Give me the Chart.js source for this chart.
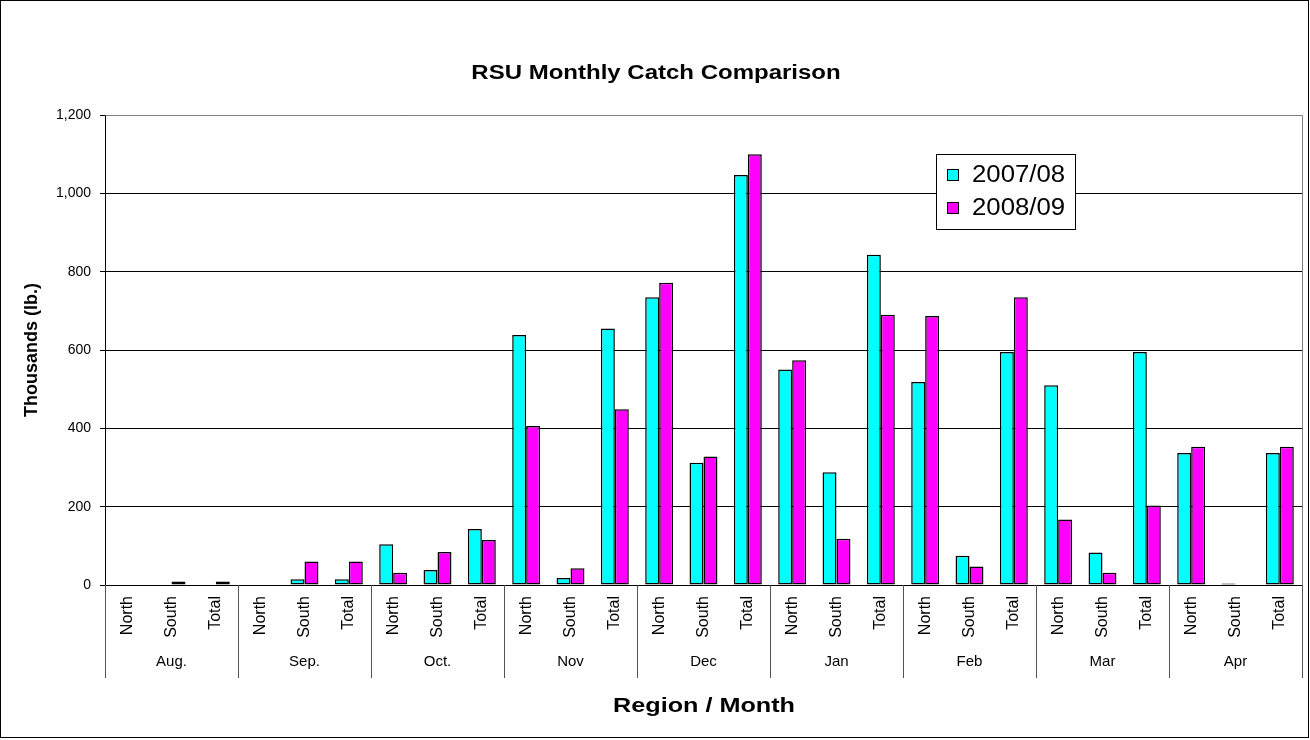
<!DOCTYPE html>
<html>
<head>
<meta charset="utf-8">
<script src="https://cdn.jsdelivr.net/npm/chart.js@4.4.1/dist/chart.umd.min.js"></script>
<style>
  html, body { margin: 0; padding: 0; background: #fff; }
  #wrap { width: 1310px; height: 740px; position: relative; }
</style>
</head>
<body>
<div id="wrap"><canvas id="c" width="1310" height="740"></canvas></div>
<script>
const months = ['Aug.', 'Sep.', 'Oct.', 'Nov', 'Dec', 'Jan', 'Feb', 'Mar', 'Apr'];
const regions = ['North', 'South', 'Total'];
const seriesNames = ['2007/08', '2008/09'];
const catch0708 = [0, 0, 0,   0, 15, 15,   104, 38, 143,   638, 18, 655,   735, 312, 1047,   550, 288, 843,   518, 75, 595,   510, 83, 595,   337, 4, 337];
const catch0809 = [0, 9, 9,   0, 60, 60,   31, 84, 115,   406, 43, 449,   772, 328, 1100,   574, 118, 690,   687, 47, 735,   167, 31, 203,   353, 0, 353];
const yTicks = [0, 200, 400, 600, 800, 1000, 1200];
const chartTitle = 'RSU Monthly Catch Comparison';
const yTitle = 'Thousands (lb.)';
const xTitle = 'Region / Month';

const labels = [];
months.forEach(m => regions.forEach(r => labels.push(r + '|' + m)));

const FONT = "'Liberation Sans', Arial, sans-serif";

function stretchedText(ctx, text, x, y, sx) {
  ctx.save();
  ctx.translate(x, y);
  ctx.scale(sx, 1);
  ctx.fillText(text, 0, 0);
  ctx.restore();
}

const decorPlugin = {
  id: 'decor',
  afterDraw(chart) {
    const ctx = chart.ctx;
    const ca = chart.chartArea;
    const xs = chart.scales.x;
    ctx.save();
    // plot area border (gray) top and right
    ctx.strokeStyle = '#808080';
    ctx.lineWidth = 1;
    ctx.beginPath();
    ctx.moveTo(Math.round(ca.left) + 0.5, Math.round(ca.top) + 0.5);
    ctx.lineTo(Math.round(ca.right) + 0.5, Math.round(ca.top) + 0.5);
    ctx.lineTo(Math.round(ca.right) + 0.5, Math.round(ca.bottom) + 0.5);
    ctx.stroke();

    // category labels
    const n = labels.length;
    const catW = (ca.right - ca.left) / n;
    ctx.fillStyle = '#000';
    ctx.font = '16px ' + FONT;
    labels.forEach((lab, i) => {
      const x = xs.getPixelForValue(i);
      ctx.save();
      ctx.translate(x, ca.bottom + 11);
      ctx.rotate(-Math.PI / 2);
      ctx.textAlign = 'right';
      ctx.textBaseline = 'middle';
      ctx.fillText(lab.split('|')[0], 0, 0);
      ctx.restore();
    });
    // month labels and separators
    ctx.strokeStyle = '#555';
    ctx.textAlign = 'center';
    ctx.textBaseline = 'middle';
    ctx.font = '15px ' + FONT;
    for (let k = 0; k <= months.length; k++) {
      const x = Math.round(xs.getPixelForValue(k * 3) - catW / 2) + 0.5;
      ctx.beginPath();
      ctx.moveTo(x, ca.bottom);
      ctx.lineTo(x, ca.bottom + 93);
      ctx.stroke();
      if (k < months.length) {
        const cx = xs.getPixelForValue(k * 3 + 1);
        ctx.fillText(months[k], cx, ca.bottom + 77);
      }
    }
    // axis titles
    ctx.font = 'bold 21px ' + FONT;
    stretchedText(ctx, xTitle, 704, 706, 1.2);
    ctx.save();
    ctx.translate(32, (ca.top + ca.bottom) / 2);
    ctx.rotate(-Math.PI / 2);
    ctx.font = 'bold 18px ' + FONT;
    ctx.fillText(yTitle, 0, 0);
    ctx.restore();
    // chart title
    ctx.font = 'bold 20px ' + FONT;
    stretchedText(ctx, chartTitle, 656, 73, 1.2);

    // legend
    const lx = 936, ly = 154, lw = 139, lh = 75;
    ctx.fillStyle = '#fff';
    ctx.fillRect(lx, ly, lw, lh);
    ctx.strokeStyle = '#000';
    ctx.lineWidth = 1;
    ctx.strokeRect(lx + 0.5, ly + 0.5, lw, lh);
    chart.data.datasets.forEach((ds, i) => {
      const cy = ly + 21 + i * 33;
      ctx.fillStyle = ds.backgroundColor;
      ctx.fillRect(947, cy - 6, 12, 12);
      ctx.strokeStyle = '#000';
      ctx.strokeRect(947.5, cy - 5.5, 11, 11);
      ctx.fillStyle = '#000';
      ctx.font = '23px ' + FONT;
      ctx.textAlign = 'left';
      stretchedText(ctx, ds.label, 972, cy + 1, 1.12);
    });

    // outer frame
    ctx.strokeStyle = '#000';
    ctx.lineWidth = 1;
    ctx.strokeRect(0.5, 0.5, 1308, 737);
    ctx.restore();
  }
};

new Chart(document.getElementById('c'), {
  type: 'bar',
  data: {
    labels: labels,
    datasets: [
      { label: seriesNames[0], data: catch0708, backgroundColor: '#00FFFF', borderColor: '#000', borderWidth: 1.5, borderSkipped: false },
      { label: seriesNames[1], data: catch0809, backgroundColor: '#FF00FF', borderColor: '#000', borderWidth: 1.5, borderSkipped: false }
    ]
  },
  options: {
    responsive: false,
    devicePixelRatio: 1,
    animation: false,
    layout: { padding: { left: 0, top: 115, right: 8, bottom: 0 } },
    datasets: { bar: { categoryPercentage: 0.63, barPercentage: 1.0 } },
    plugins: { legend: { display: false }, tooltip: { enabled: false }, title: { display: false } },
    scales: {
      x: {
        grid: { display: false },
        border: { display: true, color: '#000', width: 1 },
        ticks: { display: false },
        afterFit(scale) { scale.height = 155; }
      },
      y: {
        min: 0,
        max: 1200,
        afterBuildTicks(scale) { scale.ticks = yTicks.map(v => ({ value: v })); },
        afterFit(scale) { scale.width = 105; },
        grid: { color: '#000', lineWidth: 1, tickLength: 5, tickColor: '#000', drawTicks: true },
        border: { display: true, color: '#000', width: 1 },
        ticks: {
          color: '#000',
          font: { family: FONT, size: 14 },
          padding: 9,
          callback: v => v.toLocaleString('en-US')
        }
      }
    }
  },
  plugins: [decorPlugin]
});
</script>
</body>
</html>
